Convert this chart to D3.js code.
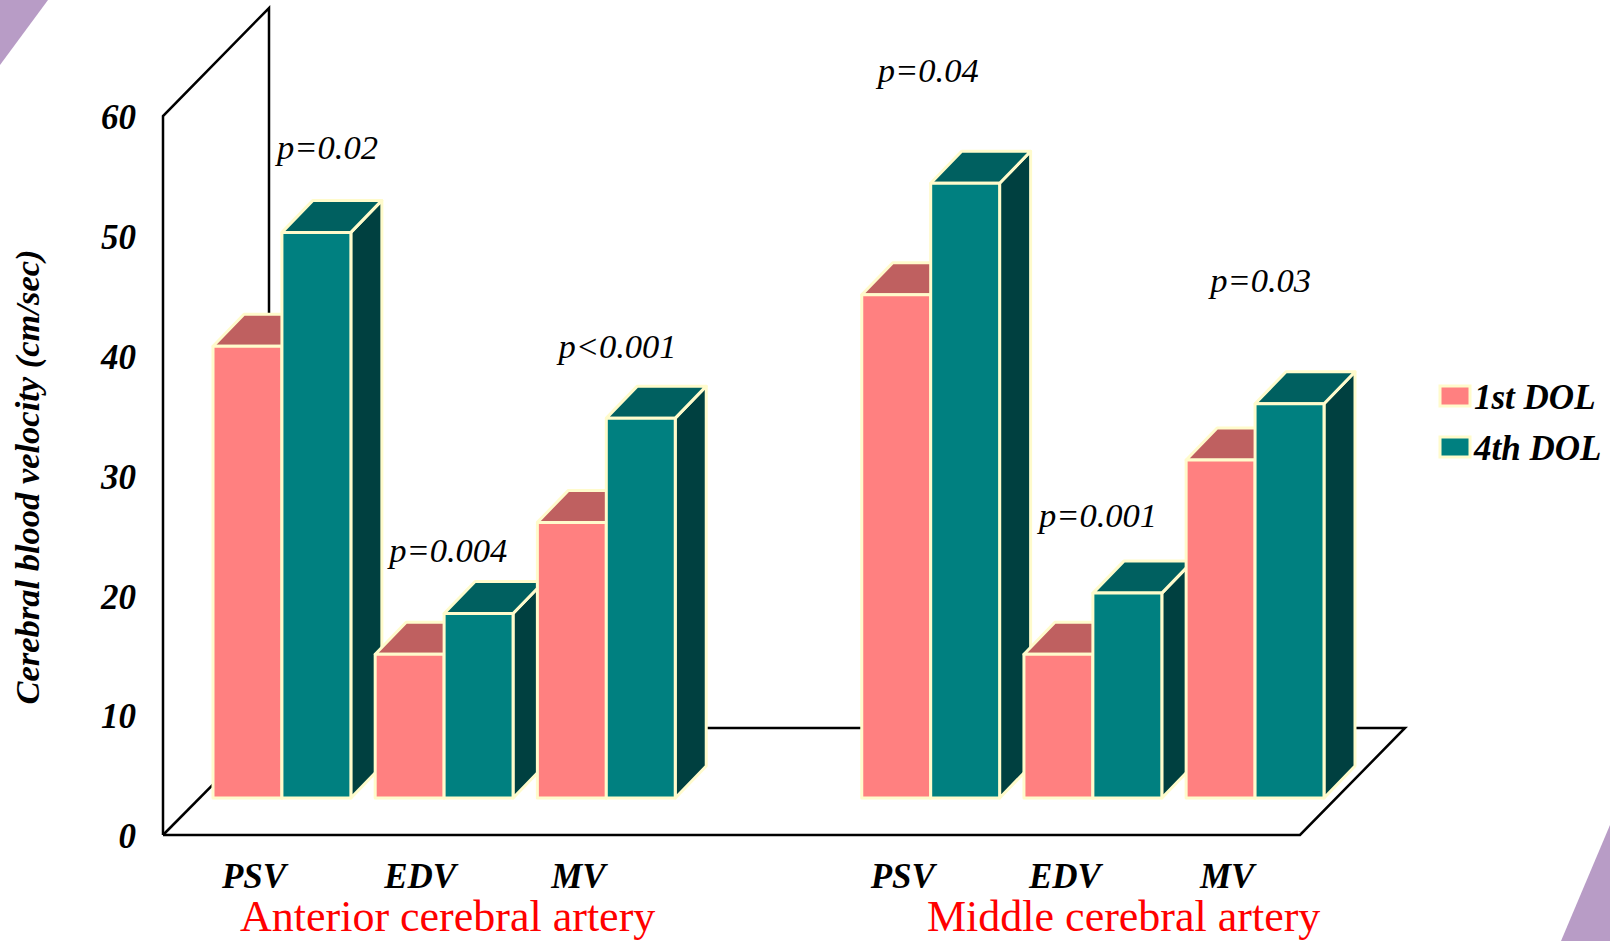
<!DOCTYPE html>
<html>
<head>
<meta charset="utf-8">
<script src="https://cdn.jsdelivr.net/npm/d3@7"></script>
<style>
    html, body { margin: 0; padding: 0; background: #fff; }
    svg { display: block; }
    text { font-family: "Liberation Serif", serif; }
</style>
</head>
<body>
<div id="chart"></div>
<script>
// Values, one blank slot keeps the two arteries apart
const categories = ["PSV", "EDV", "MV", "", "PSV", "EDV", "MV"];
const firstDol = [37.7, 12, 23, null, 42, 12, 28.2];
const fourthDol = [47.2, 15.4, 31.7, null, 51.3, 17.1, 32.9];
const pValues = ["p=0.02", "p=0.004", "p<0.001", "", "p=0.04", "p=0.001", "p=0.03"];
const seriesNames = ["1st DOL", "4th DOL"];
const arteries = ["Anterior cerebral artery", "Middle cerebral artery"];
const yTicks = [0, 10, 20, 30, 40, 50, 60];

const width = 1610;
const height = 941;

const svg = d3.select("#chart")
    .append("svg")
    .attr("width", width)
    .attr("height", height);

// Purple corners of the slide background
const cornerColor = "#b89cc6";
svg.append("path").attr("d", "M0,0L48,0L0,65Z").attr("fill", cornerColor);
svg.append("path").attr("d", "M1610,825L1561,941L1610,941Z").attr("fill", cornerColor);

// Scales
const y = d3.scaleLinear().domain([0, 60]).range([835, 116]);
const x = d3.scaleBand()
    .domain(d3.range(categories.length))
    .range([213, 1324])
    .paddingInner(0.15);
const xSeries = d3.scaleBand()
    .domain([0, 1])
    .range([0, x.bandwidth()]);

// 3D box offsets
const wallDepth = 106;
const floorInset = 37;
const barDepthX = 31;
const barDepthY = 32;
const floorRight = 1300;
const wallX = x.range()[0] - 50;

// Walls and floor
const frame = [
    [[wallX, y(0)], [wallX, y(60)], [wallX + wallDepth, y(60) - wallDepth - 2], [wallX + wallDepth, y(0) - wallDepth - 1]],
    [[wallX, y(0)], [floorRight, y(0)], [floorRight + wallDepth - 1, y(0) - wallDepth - 1], [wallX + wallDepth, y(0) - wallDepth - 1]],
    [[wallX, y(0)], [wallX + wallDepth, y(0) - wallDepth - 1]]
];
svg.append("g").selectAll("path")
    .data(frame)
    .join("path")
    .attr("d", d3.line())
    .attr("fill", "none")
    .attr("stroke", "#000")
    .attr("stroke-width", 2.5);

// Y axis, only the numbers are visible
const yAxis = svg.append("g")
    .attr("transform", "translate(140,1.5)")
    .call(d3.axisLeft(y).tickValues(yTicks).tickSize(0).tickPadding(4));
yAxis.select(".domain").remove();
yAxis.selectAll("text")
    .attr("font-size", 35)
    .attr("font-family", "Liberation Serif")
    .attr("font-weight", "bold")
    .attr("font-style", "italic")
    .attr("fill", "#000");

svg.append("text")
    .attr("transform", "translate(39,477) rotate(-90)")
    .attr("text-anchor", "middle")
    .attr("font-size", 34.5)
    .attr("font-weight", "bold")
    .attr("font-style", "italic")
    .text("Cerebral blood velocity (cm/sec)");

// Bars, drawn left to right so each one hides the side of the one before
const palettes = [
    { front: "#ff8080", top: "#bf6060", side: "#804040" },
    { front: "#008080", top: "#006060", side: "#004040" }
];
const barStroke = "#fffbcc";
const yBase = y(0) - floorInset;
const barHeight = v => y(0) - y(v);

const bars = [];
categories.forEach((c, i) => {
    [firstDol[i], fourthDol[i]].forEach((v, s) => {
        if (v !== null) bars.push({ i, s, v });
    });
});

const barGroups = svg.append("g").selectAll("g")
    .data(bars)
    .join("g")
    .attr("stroke", barStroke)
    .attr("stroke-width", 3)
    .attr("stroke-linejoin", "round");

const barLine = d3.line();
barGroups.append("path")
    .attr("fill", d => palettes[d.s].side)
    .attr("d", d => {
        const x1 = x(d.i) + xSeries(d.s) + xSeries.bandwidth();
        const top = yBase - barHeight(d.v);
        return barLine([[x1, yBase], [x1 + barDepthX, yBase - barDepthY], [x1 + barDepthX, top - barDepthY], [x1, top]]) + "Z";
    });
barGroups.append("path")
    .attr("fill", d => palettes[d.s].top)
    .attr("d", d => {
        const x0 = x(d.i) + xSeries(d.s);
        const x1 = x0 + xSeries.bandwidth();
        const top = yBase - barHeight(d.v);
        return barLine([[x0, top], [x0 + barDepthX, top - barDepthY], [x1 + barDepthX, top - barDepthY], [x1, top]]) + "Z";
    });
barGroups.append("rect")
    .attr("fill", d => palettes[d.s].front)
    .attr("x", d => x(d.i) + xSeries(d.s))
    .attr("y", d => yBase - barHeight(d.v))
    .attr("width", xSeries.bandwidth())
    .attr("height", d => barHeight(d.v));

// Category labels under the floor
const labelOffsetX = [41, 45, 41, 0, 41, 41, 41];
svg.append("g").selectAll("text")
    .data(categories)
    .join("text")
    .attr("x", (d, i) => x(i) + labelOffsetX[i])
    .attr("y", 888)
    .attr("text-anchor", "middle")
    .attr("font-size", 35)
    .attr("font-weight", "bold")
    .attr("font-style", "italic")
    .text(d => d);

// Artery names
const arteryStart = [240, 927];
svg.append("g").selectAll("text")
    .data(arteries)
    .join("text")
    .attr("x", (d, i) => arteryStart[i])
    .attr("y", 931)
    .attr("font-size", 44)
    .attr("fill", "#ff0000")
    .text(d => d);

// p values, placed relative to the taller bar of each pair
const pOffsetX = [64, 14, 21, 0, 16, 15, 24];
const pOffsetY = [73, 51, 60, 0, 101, 66, 112];
svg.append("g").selectAll("text")
    .data(pValues)
    .join("text")
    .attr("x", (d, i) => x(i) + pOffsetX[i])
    .attr("y", (d, i) => fourthDol[i] === null ? 0 : yBase - barHeight(fourthDol[i]) - pOffsetY[i])
    .attr("font-size", 34.5)
    .attr("font-style", "italic")
    .text(d => d);

// Legend
const legend = svg.append("g").selectAll("g")
    .data(seriesNames)
    .join("g")
    .attr("transform", (d, i) => `translate(1440,${386 + i * 51})`);
legend.append("rect")
    .attr("width", 30)
    .attr("height", 20)
    .attr("fill", (d, i) => palettes[i].front)
    .attr("stroke", barStroke)
    .attr("stroke-width", 3);
legend.append("text")
    .attr("x", 34)
    .attr("y", 23)
    .attr("font-size", 35)
    .attr("font-weight", "bold")
    .attr("font-style", "italic")
    .text(d => d);
</script>
</body>
</html>
